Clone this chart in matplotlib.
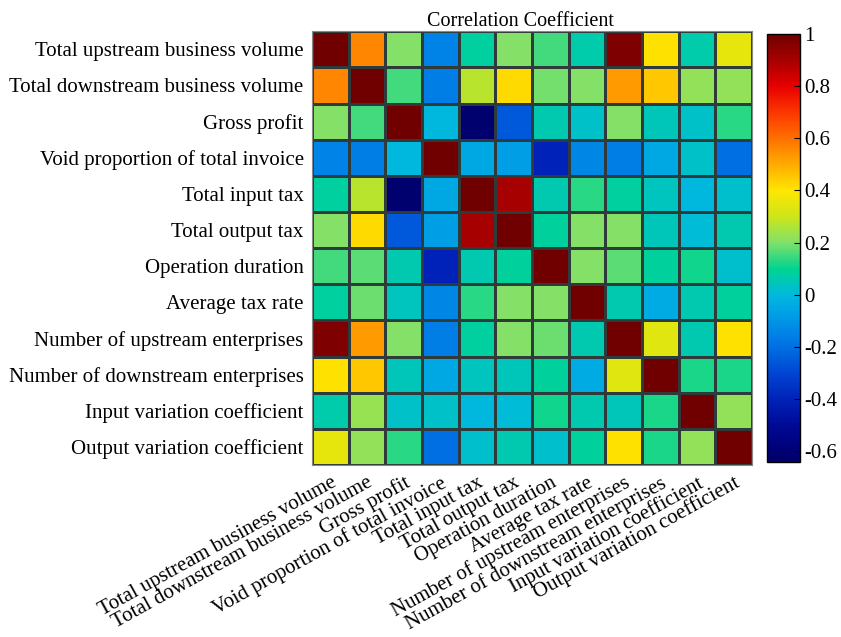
import matplotlib.pyplot as plt
import numpy as np
from matplotlib.colors import LinearSegmentedColormap

# -------------------------------
# DATA
# -------------------------------
labels = [
    "Total upstream business volume",
    "Total downstream business volume",
    "Gross profit",
    "Void proportion of total invoice",
    "Total input tax",
    "Total output tax",
    "Operation duration",
    "Average tax rate",
    "Number of upstream enterprises",
    "Number of downstream enterprises",
    "Input variation coefficient",
    "Output variation coefficient",
]

corr = np.array([
    [1.00, 0.56, 0.20, -0.15, 0.08, 0.20, 0.15, 0.07, 0.97, 0.41, 0.07, 0.35],
    [0.56, 1.00, 0.15, -0.16, 0.27, 0.42, 0.19, 0.20, 0.53, 0.45, 0.22, 0.22],
    [0.20, 0.15, 1.00, 0.00, -0.62, -0.25, 0.06, 0.03, 0.20, 0.05, 0.03, 0.13],
    [-0.15, -0.16, 0.00, 1.00, -0.05, -0.07, -0.40, -0.14, -0.16, -0.05, 0.03, -0.20],
    [0.08, 0.27, -0.62, -0.05, 1.00, 0.90, 0.06, 0.13, 0.08, 0.04, 0.00, 0.02],
    [0.20, 0.42, -0.25, -0.07, 0.90, 1.00, 0.09, 0.20, 0.20, 0.05, 0.01, 0.06],
    [0.15, 0.17, 0.06, -0.40, 0.06, 0.09, 1.00, 0.20, 0.17, 0.09, 0.11, 0.02],
    [0.08, 0.18, 0.04, -0.14, 0.13, 0.20, 0.20, 1.00, 0.06, -0.04, 0.06, 0.09],
    [0.97, 0.53, 0.20, -0.16, 0.08, 0.20, 0.18, 0.06, 1.00, 0.34, 0.06, 0.41],
    [0.41, 0.45, 0.05, -0.05, 0.04, 0.05, 0.09, -0.04, 0.34, 1.00, 0.12, 0.12],
    [0.07, 0.23, 0.03, 0.03, 0.00, 0.01, 0.11, 0.06, 0.05, 0.12, 1.00, 0.22],
    [0.35, 0.22, 0.13, -0.20, 0.02, 0.06, 0.02, 0.09, 0.41, 0.12, 0.22, 1.00],
])

vmin, vmax = -0.64, 1.0
cbar_ticks = [-0.6, -0.4, -0.2, 0, 0.2, 0.4, 0.6, 0.8, 1]
cbar_ticklabels = ["-0.6", "-0.4", "-0.2", "0", "0.2", "0.4", "0.6", "0.8", "1"]

# jet-like colormap as it looks in the picture (value, rgb)
cmap_anchors = [
    (-0.64, (0, 0, 105)),
    (-0.6, (0, 0, 118)),
    (-0.5, (0, 10, 150)),
    (-0.4, (0, 35, 185)),
    (-0.3, (0, 70, 210)),
    (-0.2, (0, 112, 228)),
    (-0.1, (0, 150, 232)),
    (0.0, (0, 185, 222)),
    (0.1, (0, 212, 145)),
    (0.2, (130, 224, 105)),
    (0.3, (205, 230, 25)),
    (0.4, (255, 230, 0)),
    (0.5, (255, 172, 0)),
    (0.6, (255, 112, 0)),
    (0.7, (252, 55, 0)),
    (0.8, (232, 0, 0)),
    (0.9, (168, 0, 0)),
    (1.0, (112, 0, 0)),
]

# -------------------------------
# PLOT
# -------------------------------
plt.rcParams['font.family'] = ['Liberation Serif', 'DejaVu Serif']

cmap = LinearSegmentedColormap.from_list(
    "jet_like",
    [((v - vmin) / (vmax - vmin), tuple(c / 255 for c in rgb)) for v, rgb in cmap_anchors],
)

fig = plt.figure(figsize=(8.41, 6.37), dpi=100)
ax = fig.add_axes([0.371, 0.270, 0.523, 0.681])
cax = fig.add_axes([0.912, 0.275, 0.039, 0.672])

n = len(labels)
mesh = ax.pcolormesh(np.arange(n + 1), np.arange(n + 1), corr,
                     cmap=cmap, vmin=vmin, vmax=vmax,
                     edgecolors='#2f3a3a', linewidth=1.0)
ax.set_xlim(0, n)
ax.set_ylim(n, 0)

ax.set_xticks(np.arange(n) + 0.5)
ax.set_yticks(np.arange(n) + 0.5)
ax.set_yticklabels(labels, fontsize=15)
ax.set_xticklabels(labels, fontsize=15, rotation=29, ha='right',
                   rotation_mode='anchor')
ax.tick_params(length=0, pad=6)
for s in ax.spines.values():
    s.set_color('#888888')

ax.set_title("Correlation Coefficient", fontsize=14.5, pad=4, x=0.475)

cb = fig.colorbar(mesh, cax=cax, ticks=cbar_ticks)
cb.ax.set_yticklabels(cbar_ticklabels)
cb.ax.tick_params(labelsize=15, direction='in', length=4)
cb.outline.set_linewidth(1)

fig.savefig("out.png", dpi=100)
